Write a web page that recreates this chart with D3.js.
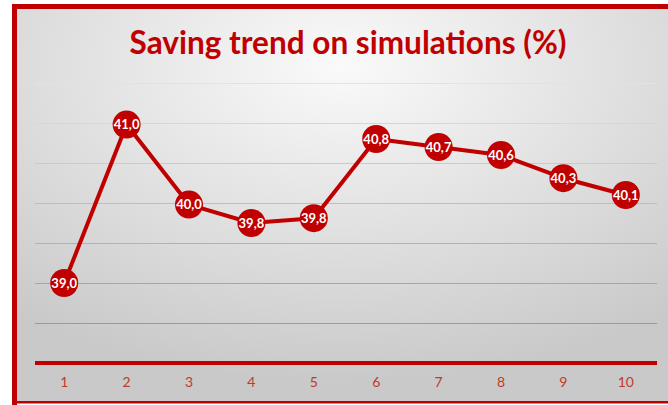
<!DOCTYPE html>
<html>
<head>
<meta charset="utf-8">
<script src="https://cdn.jsdelivr.net/npm/d3@7"></script>
<style>
html,body{margin:0;padding:0;background:#fff;}
svg{display:block;}
</style>
</head>
<body>
<script>
const categories = ["1","2","3","4","5","6","7","8","9","10"];
const values = [39.0, 40.98, 39.98, 39.75, 39.81, 40.8, 40.7, 40.6, 40.31, 40.1];
const gridTicks = [38.5, 39, 39.5, 40, 40.5, 41, 41.5];
const titleText = "Saving trend on simulations (%)";
const yDomain = [38, 41.5];

const W = 668, H = 405;
const svg = d3.select("body").append("svg").attr("width", W).attr("height", H);
const defs = svg.append("defs");
const rg = defs.append("radialGradient").attr("id","bg")
  .attr("cx","50%").attr("cy","15%").attr("r","80%").attr("fx","50%").attr("fy","15%");
rg.append("stop").attr("offset","0%").attr("stop-color","#fafafa");
rg.append("stop").attr("offset","100%").attr("stop-color","#c9c9c9");

svg.append("rect").attr("x",14).attr("y",6).attr("width",W-14).attr("height",H-8).attr("fill","url(#bg)");

const red = "#C00000";
svg.append("rect").attr("x",12).attr("y",4).attr("width",W-12).attr("height",5).attr("fill",red);
svg.append("rect").attr("x",12).attr("y",4).attr("width",5).attr("height",H-4).attr("fill",red);
svg.append("rect").attr("x",12).attr("y",401).attr("width",W-12).attr("height",2.5).attr("fill",red);

const x = d3.scaleBand().domain(categories).range([33, 657]);
const y = d3.scaleLinear().domain(yDomain).range([363, 83]);

const gc = d3.scaleLinear().domain([41.5, 38.5]).range(["#e2e2e2", "#9a9a9a"]);
svg.append("g").selectAll("line").data(gridTicks).join("line")
  .attr("x1", 35).attr("x2", 657)
  .attr("y1", d => Math.round(y(d)) + 0.5).attr("y2", d => Math.round(y(d)) + 0.5)
  .attr("stroke", d => gc(d)).attr("stroke-width", 1);

const xAxis = svg.append("g").attr("transform", `translate(0,${y(yDomain[0])})`)
  .call(d3.axisBottom(x).tickSize(0).tickPadding(16));
xAxis.select(".domain").attr("stroke", red).attr("stroke-width", 4).attr("d", "M35,0H657");
xAxis.selectAll("text").attr("fill", "#c0392b").attr("font-family", "Lato, 'Open Sans', sans-serif")
  .attr("font-size", 14).attr("dy", "0.55em");

const cx = d => x(d) + x.bandwidth()/2;
svg.append("path").datum(values)
  .attr("d", d3.line().x((d,i) => cx(categories[i])).y(d => y(d)))
  .attr("fill","none").attr("stroke", red).attr("stroke-width", 4).attr("stroke-linejoin","round");

const pts = svg.append("g").selectAll("g").data(values).join("g")
  .attr("transform", (d,i) => `translate(${cx(categories[i])},${y(d)})`);
pts.append("circle").attr("r", 14).attr("fill", red);
pts.append("text").text(d => d.toFixed(1).replace(".", ","))
  .attr("text-anchor","middle").attr("dy","0.35em")
  .attr("fill","#fff").attr("font-weight","bold")
  .attr("font-family","Lato, 'Open Sans', sans-serif").attr("font-size", 13);

const t = svg.append("text").text(titleText)
  .attr("x", 348).attr("y", 54).attr("text-anchor","middle")
  .attr("fill", red).attr("font-weight","bold")
  .attr("font-family","Lato, 'Open Sans', sans-serif").attr("font-size", 26);
const len = t.node().getComputedTextLength();
t.attr("font-size", 26 * 437 / len);
</script>
</body>
</html>
